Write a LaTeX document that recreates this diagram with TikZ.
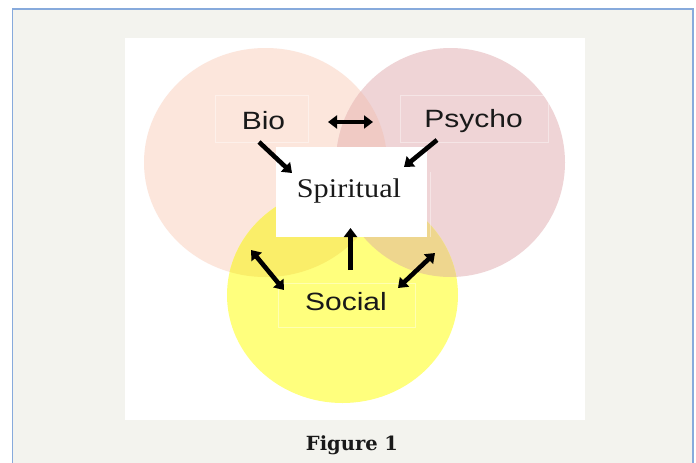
\documentclass[tikz,border=0pt]{standalone}
\usepackage{fontspec}
\setmainfont{Liberation Sans}
\newfontfamily\serifface{Liberation Serif}
\newfontfamily\captionface{DejaVu Serif}
\usetikzlibrary{arrows.meta}
\definecolor{pagebg}{RGB}{243,243,238}
\definecolor{frameblue}{RGB}{135,170,220}
\definecolor{biofill}{RGB}{252,230,220}
\definecolor{psyfill}{RGB}{239,212,214}
\definecolor{bpfill}{RGB}{240,202,196}
\definecolor{socfill}{RGB}{255,255,125}
\definecolor{sbfill}{RGB}{250,238,105}
\definecolor{spfill}{RGB}{238,214,142}
\definecolor{sbpfill}{RGB}{236,205,120}
\definecolor{textgray}{RGB}{25,25,25}
\tikzset{
  faintbox/.style={draw=white, draw opacity=0.4, line width=0.8pt, fill=none},
  sanslabel/.style={font=\fontsize{25}{25}\selectfont, text=textgray, inner sep=0pt},
  fatarrow/.style={line width=4.6pt, -{Triangle[length=9pt,width=13pt]}},
  fatdouble/.style={line width=4.6pt, {Triangle[length=9pt,width=13pt]}-{Triangle[length=9pt,width=13pt]}},
}
\newcommand{\wide}[1]{\scalebox{1.2}[1]{#1}}
\begin{document}
\begin{tikzpicture}[x=1pt,y=-1pt]
\useasboundingbox (0,0) rectangle (696,463);
% page frame
\fill[white] (0,0) rectangle (696,463);
\fill[pagebg] (12.5,9) rectangle (693,470);
\draw[frameblue, line width=1.5pt] (12.5,470) -- (12.5,9) -- (693,9) -- (693,470);
% image panel
\fill[white] (125,38) rectangle (585,420);
% circles
\fill[biofill] (265.5,162.5) ellipse [x radius=121.5, y radius=114.5];
\fill[psyfill] (450.5,162.5) ellipse [x radius=114.5, y radius=114.5];
\begin{scope}
  \clip (265.5,162.5) ellipse [x radius=121.5, y radius=114.5];
  \fill[bpfill] (450.5,162.5) ellipse [x radius=114.5, y radius=114.5];
\end{scope}
\fill[socfill] (342.5,295) ellipse [x radius=115.5, y radius=108];
\begin{scope}
  \clip (342.5,295) ellipse [x radius=115.5, y radius=108];
  \fill[sbfill] (265.5,162.5) ellipse [x radius=121.5, y radius=114.5];
  \fill[spfill] (450.5,162.5) ellipse [x radius=114.5, y radius=114.5];
  \clip (265.5,162.5) ellipse [x radius=121.5, y radius=114.5];
  \fill[sbpfill] (450.5,162.5) ellipse [x radius=114.5, y radius=114.5];
\end{scope}
% faint label boxes
\draw[faintbox] (215,95) rectangle (308,142);
\draw[faintbox] (400,95) rectangle (548,142);
\draw[faintbox] (278,283) rectangle (415,327);
\draw[faintbox] (430,172) -- (430,237);
% nodes
\node[sanslabel] (bio) at (263.5,121) {\wide{Bio}};
\node[sanslabel] (psycho) at (473.5,121) {\wide{Psycho}};
\node[sanslabel] (social) at (346,302) {\wide{Social}};
\node[fill=white, minimum width=151pt, minimum height=90pt, inner sep=0pt] (spbox) at (351.5,192) {};
\node[font=\serifface\fontsize{27}{27}\selectfont, text=textgray, inner sep=0pt] (spiritual) at (349,191) {\scalebox{1.12}[1]{Spiritual}};
% arrow end points
\coordinate (bpL) at (328,122);
\coordinate (bpR) at (373,122);
\coordinate (bsA) at (259,142);
\coordinate (bsB) at (292,173);
\coordinate (psA) at (437,140);
\coordinate (psB) at (404,167);
\coordinate (ssA) at (350.5,270);
\coordinate (ssB) at (350.5,228);
\coordinate (slA) at (284,290);
\coordinate (slB) at (251,250);
\coordinate (srA) at (398,288);
\coordinate (srB) at (435,253);
% arrows
\draw[fatdouble] (bpL) -- (bpR);
\draw[fatarrow] (bsA) -- (bsB);
\draw[fatarrow] (psA) -- (psB);
\draw[fatarrow] (ssA) -- (ssB);
\draw[fatdouble] (slA) -- (slB);
\draw[fatdouble] (srA) -- (srB);
% caption
\node[font=\captionface\bfseries\fontsize{19.5}{19.5}\selectfont, text=textgray, inner sep=0pt] (caption) at (352,445) {Figure 1};
\end{tikzpicture}
\end{document}
